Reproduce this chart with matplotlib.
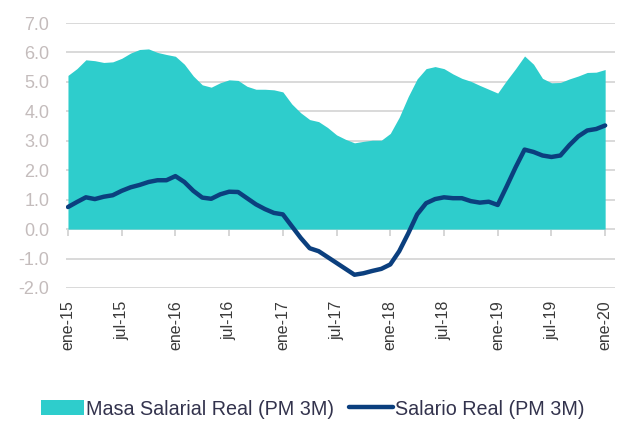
import matplotlib
matplotlib.use("Agg")
import matplotlib.pyplot as plt
import numpy as np

# ---- data (monthly, ene-15 .. ene-20) ----
masa_salarial = [5.22, 5.45, 5.75, 5.72, 5.66, 5.68, 5.80, 5.98, 6.10, 6.12,
                 6.00, 5.93, 5.87, 5.60, 5.20, 4.90, 4.82, 4.97, 5.07, 5.05,
                 4.85, 4.75, 4.75, 4.73, 4.66, 4.25, 3.95, 3.72, 3.65, 3.45,
                 3.20, 3.05, 2.93, 2.98, 3.02, 3.02, 3.25, 3.80, 4.50, 5.10,
                 5.45, 5.52, 5.45, 5.27, 5.12, 5.02, 4.88, 4.75, 4.62, 5.05,
                 5.45, 5.88, 5.60, 5.12, 4.97, 4.98, 5.10, 5.20, 5.32, 5.33,
                 5.42]
salario_real = [0.75, 0.92, 1.08, 1.02, 1.10, 1.15, 1.30, 1.42, 1.50, 1.60,
                1.66, 1.66, 1.80, 1.60, 1.30, 1.07, 1.03, 1.18, 1.27, 1.26,
                1.05, 0.84, 0.68, 0.55, 0.50, 0.10, -0.30, -0.65, -0.75, -0.95,
                -1.15, -1.35, -1.55, -1.50, -1.42, -1.35, -1.20, -0.75, -0.15, 0.50,
                0.88, 1.02, 1.08, 1.05, 1.05, 0.95, 0.90, 0.93, 0.82, 1.45,
                2.10, 2.70, 2.62, 2.50, 2.45, 2.50, 2.85, 3.15, 3.35, 3.40,
                3.52]
tick_labels = ["ene-15", "jul-15", "ene-16", "jul-16", "ene-17", "jul-17",
               "ene-18", "jul-18", "ene-19", "jul-19", "ene-20"]
y_ticks = [-2, -1, 0, 1, 2, 3, 4, 5, 6, 7]
series_names = ["Masa Salarial Real (PM 3M)", "Salario Real (PM 3M)"]

months = np.arange(len(masa_salarial))
tick_pos = np.arange(0, len(masa_salarial), 6)

plt.rcParams['font.family'] = ['Liberation Sans', 'DejaVu Sans']

fig = plt.figure(figsize=(6.29, 4.23), dpi=100)
ax = fig.add_axes([66/629, 1-288/423, 549/629, 265/423])

area_color = "#2ecdcc"
line_color = "#0b3f7e"
grid_color = "#d9d9d9"

ax.fill_between(months, 0, masa_salarial, color=area_color, linewidth=0,
                label=series_names[0], zorder=2)
ax.plot(months, salario_real, color=line_color, linewidth=3.2,
        solid_capstyle='round', solid_joinstyle='round',
        label=series_names[1], zorder=3)

ax.set_ylim(-2, 7)
ax.set_xlim(-0.22, 61.1)
ax.set_yticks(y_ticks)
ax.set_yticklabels([f"{v:.1f}" for v in y_ticks])
ax.yaxis.grid(True, color=grid_color, linewidth=1.4)
ax.set_axisbelow(True)
for s in ax.spines.values():
    s.set_visible(False)

ax.tick_params(axis='y', length=0, pad=12, labelsize=13, labelcolor="#c4bcbc")
ax.set_xticks(tick_pos)
ax.set_xticklabels(tick_labels, rotation=90, ha='center', va='top')
ax.tick_params(axis='x', length=0, pad=9, labelsize=11.5, labelcolor="#3a3a3a")

# tick marks on the zero line
sec = ax.secondary_xaxis(2/9)
sec.set_xticks(tick_pos)
sec.set_xticklabels([])
sec.spines['bottom'].set_visible(False)
sec.tick_params(axis='x', direction='out', length=5, width=1.2, color="#cfcfcf")

leg = fig.legend(loc='lower center', bbox_to_anchor=(0.497, -0.022), ncol=2,
                 frameon=False, fontsize=14.2, handlelength=2.2,
                 handleheight=0.8, handletextpad=0.1, columnspacing=0.75,
                 borderaxespad=0.3)
for t in leg.get_texts():
    t.set_color("#33334d")

fig.savefig("out.png", dpi=100)
